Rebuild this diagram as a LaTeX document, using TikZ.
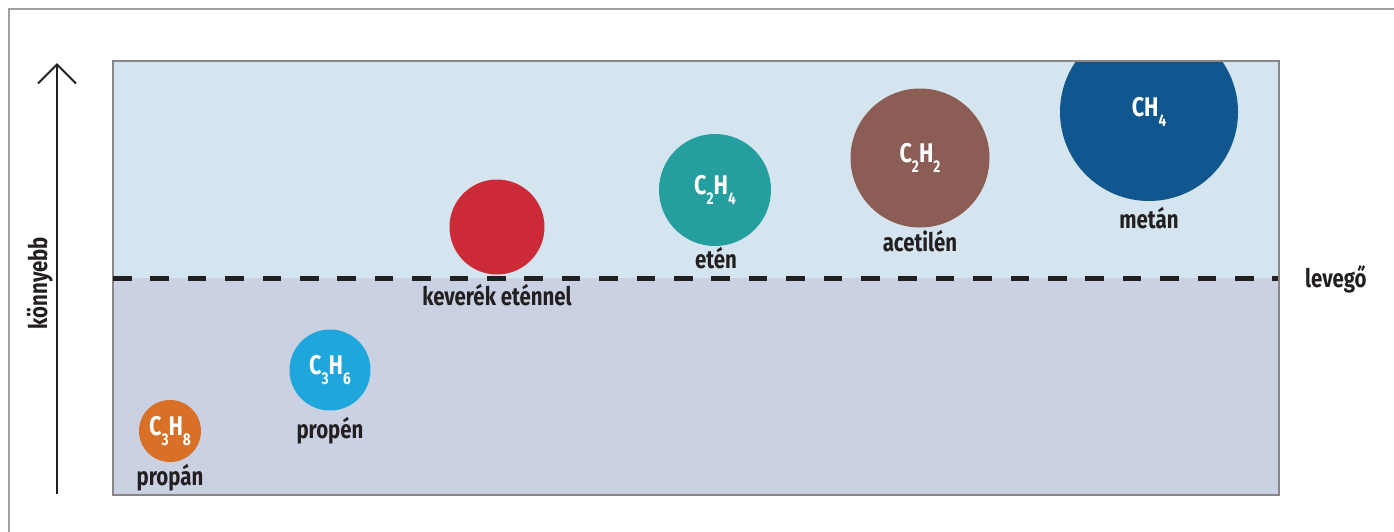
\documentclass[tikz,border=0pt]{standalone}
\usepackage{fontspec}
\setmainfont{Fira Sans}[FakeStretch=0.8]
\usetikzlibrary{arrows.meta}
\definecolor{upperc}{HTML}{D5E5F0}
\definecolor{lowerc}{HTML}{C9D1E3}
\definecolor{borderc}{HTML}{878787}
\definecolor{outerc}{HTML}{A0A0A0}
\definecolor{darkc}{HTML}{231F20}
\definecolor{ch4c}{HTML}{10568F}
\definecolor{c2h2c}{HTML}{8C5D55}
\definecolor{c2h4c}{HTML}{249E9E}
\definecolor{mixc}{HTML}{CC2A36}
\definecolor{c3h6c}{HTML}{1FA6DD}
\definecolor{c3h8c}{HTML}{D87127}
\newcommand{\sbx}[1]{\raisebox{-0.4em}{\fontsize{17}{17}\selectfont #1}}
\tikzset{
  mol/.style={circle, inner sep=0pt, text=white, font=\fontsize{27}{27}\selectfont\bfseries},
  lab/.style={anchor=base, inner sep=0pt, text=darkc, font=\fontsize{25.5}{25.5}\selectfont\bfseries},
}
\begin{document}
\begin{tikzpicture}[x=1pt,y=-1pt]
\useasboundingbox (0,0) rectangle (1394,531);
\fill[white] (0,0) rectangle (1394,531);
\draw[outerc, line width=2.5pt] (9,9) rectangle (1430,570);
\fill[upperc] (113,61) rectangle (1279,278);
\fill[lowerc] (113,278) rectangle (1279,495);
\begin{scope}
\clip (113,61) rectangle (1279,495);
\node[mol, fill=ch4c, minimum size=178pt] (ch4) at (1149,112) {CH\sbx{4}};
\end{scope}
\node[mol, fill=c2h2c, minimum size=139pt] (c2h2) at (920,158) {C\sbx{2}H\sbx{2}};
\node[mol, fill=c2h4c, minimum size=112pt] (c2h4) at (715,190) {C\sbx{2}H\sbx{4}};
\node[mol, fill=mixc, minimum size=95pt] (mix) at (497,227) {};
\node[mol, fill=c3h6c, minimum size=81pt] (c3h6) at (330,370) {C\sbx{3}H\sbx{6}};
\node[mol, fill=c3h8c, minimum size=62pt] (c3h8) at (170,431) {C\sbx{3}H\sbx{8}};
\draw[borderc, line width=2.5pt] (113,61) rectangle (1279,495);
\coordinate (dl) at (113,278);
\coordinate (dr) at (1278,278);
\draw[darkc, line width=5pt, dash pattern=on 18.5pt off 18.9pt] (dl) -- (dr);
\node[lab] (lch4) at (1149,228) {metán};
\node[lab] (lc2h2) at (920,251) {acetilén};
\node[lab] (lc2h4) at (716,268) {etén};
\node[lab] (lmix) at (497,305) {keverék eténnel};
\node[lab] (lc3h6) at (330,438) {propén};
\node[lab] (lc3h8) at (170,485) {propán};
\node[lab, anchor=base west] (lair) at (1305,287) {levegő};
\node[lab, rotate=90] (light) at (47,283) {könnyebb};
\coordinate (ab) at (57,494);
\coordinate (at) at (57,63);
\draw[darkc, line width=2pt, -{Straight Barb[length=19pt,width=38pt]}] (ab) -- (at);
\end{tikzpicture}
\end{document}
